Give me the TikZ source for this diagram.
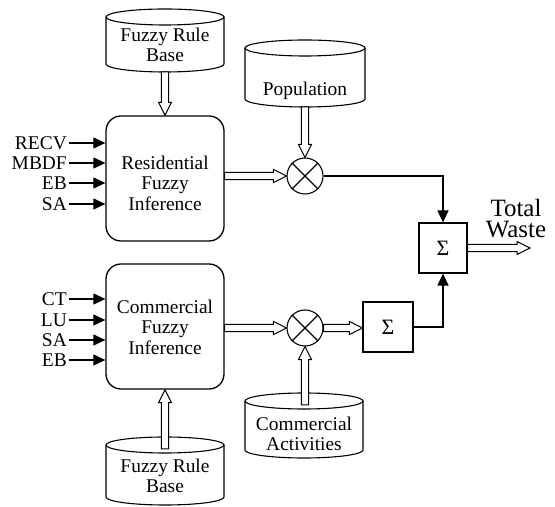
\documentclass[tikz,border=0pt]{standalone}
\usepackage{fontspec}
\setmainfont{Liberation Serif}
\usetikzlibrary{arrows.meta,calc}
\tikzset{
 txt/.style={font=\fontsize{19.5}{20.5}\selectfont, align=center, inner sep=0},
 lbl/.style={font=\fontsize{19.5}{20.5}\selectfont, inner sep=2bp, anchor=east},
 bigtxt/.style={font=\fontsize{25}{21.5}\selectfont, inner sep=0, align=center, anchor=north},
 fuzzybox/.style={draw, line width=1.3bp, rounded corners=15bp, minimum width=118bp, minimum height=125bp, inner sep=0},
 sumbox/.style={draw, line width=1.1bp, minimum width=48bp, minimum height=50bp, inner sep=0, font=\fontsize{22}{24}\selectfont},
 multnode/.style={draw, circle, line width=1.1bp, minimum size=36bp, inner sep=0},
 solidarrow/.style={line width=1.1bp, -{Triangle[length=12bp,width=11bp]}},
 hollowline/.style={line width=1bp, fill=white, line join=miter},
 cylline/.style={line width=1.1bp},
}
\newcommand\harrow[2]{%
 \path #1 coordinate (ha) #2 coordinate (hb);
 \coordinate (hc) at ($(hb)!13bp!(ha)$);
 \draw[hollowline] ($(ha)!3.7bp!90:(hb)$) -- ($(hc)!3.7bp!90:(hb)$) -- ($(hc)!6.5bp!90:(hb)$) -- (hb) -- ($(hc)!6.5bp!-90:(hb)$) -- ($(hc)!3.7bp!-90:(hb)$) -- ($(ha)!3.7bp!-90:(hb)$) -- cycle;}
\newcommand\dbcyl[7]{%
 \pgfmathsetmacro\cyrx{(#3-#2)/2}%
 \pgfmathsetmacro\cycx{(#2+#3)/2}%
 \draw[cylline] (#2,#4-8) -- (#2,#5+8) arc[start angle=180,end angle=360,x radius=\cyrx,y radius=8] -- (#3,#4-8);
 \draw[cylline] (\cycx,#4-8) ellipse[x radius=\cyrx,y radius=8];
 \coordinate (#1-n) at (\cycx,#4);
 \coordinate (#1-s) at (\cycx,#5);
 \coordinate (#1-top) at (\cycx,#4-12);
 \node[txt] (#1-t) at (\cycx,#6) {#7};}
\begin{document}
\begin{tikzpicture}[x=1bp,y=1bp]
\useasboundingbox (0,0) rectangle (555,507);
\dbcyl{frbA}{106}{224}{498}{435}{462}{Fuzzy Rule\\Base}
\dbcyl{pop}{245}{365}{467}{400}{416}{Population}
\dbcyl{cact}{245}{363}{114}{49}{73}{Commercial\\Activities}
\dbcyl{frbB}{106}{224}{70}{2}{31}{Fuzzy Rule\\Base}

\node[fuzzybox] (res) at (165,328.5) {};
\node[txt] (res-t) at (165,324) {Residential\\Fuzzy\\Inference};
\node[fuzzybox] (com) at (165,180.5) {};
\node[txt] (com-t) at (165,180) {Commercial\\Fuzzy\\Inference};

\node[lbl] (recv) at (69,364) {RECV};
\node[lbl] (mbdf) at (69,344) {MBDF};
\node[lbl] (eb1) at (69,324) {EB};
\node[lbl] (sa1) at (69,303) {SA};
\node[lbl] (ct) at (69,208) {CT};
\node[lbl] (lu) at (69,187) {LU};
\node[lbl] (sa2) at (69,167) {SA};
\node[lbl] (eb2) at (69,147) {EB};
\foreach \n/\b in {recv/res,mbdf/res,eb1/res,sa1/res,ct/com,lu/com,sa2/com,eb2/com}
  \draw[solidarrow] (\n.east) -- (\n.east -| \b.west);

\node[multnode] (m1) at (305,331) {};
\draw[cylline] (m1.north west) -- (m1.south east) (m1.north east) -- (m1.south west);
\node[multnode] (m2) at (305,179) {};
\draw[cylline] (m2.north west) -- (m2.south east) (m2.north east) -- (m2.south west);

\node[sumbox] (s1) at (443,259) {Σ};
\node[sumbox, minimum width=50bp] (s2) at (388,180) {Σ};

\harrow{(frbA-s)}{(frbA-s |- res.north)}
\harrow{(pop-s)}{(m1.north)}
\harrow{(res.east |- m1.west)}{(m1.west)}
\harrow{(com.east |- m2.west)}{(m2.west)}
\harrow{(m2.east)}{(m2.east -| s2.west)}
\harrow{(m2.south |- cact-top)}{(m2.south)}
\harrow{(frbB-top)}{(frbB-top |- com.south)}
\draw[solidarrow] (m1.east) -| (s1.north);
\draw[solidarrow] (s2.east) -| (s1.south);
\coordinate (twend) at (530,259);
\harrow{(s1.east)}{(twend)}
\node[bigtxt] (totalwaste) at (516,308) {Total\\Waste};
\end{tikzpicture}
\end{document}
